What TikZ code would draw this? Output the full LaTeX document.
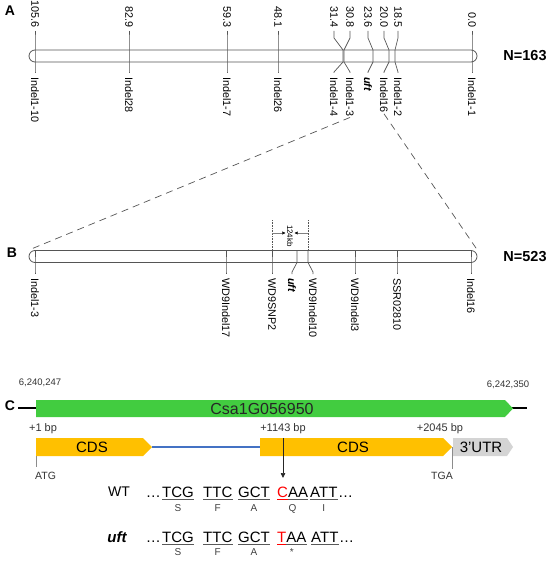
\documentclass[tikz,border=0pt]{standalone}
\usepackage{fontspec}
\setmainfont{Liberation Sans}
\usetikzlibrary{arrows.meta,calc}
\definecolor{genegreen}{RGB}{66,204,64}
\definecolor{cdsgold}{RGB}{255,192,0}
\definecolor{intronblue}{RGB}{68,114,196}
\definecolor{utrgray}{RGB}{212,212,212}
\definecolor{linegray}{RGB}{85,85,85}

\begin{document}
\begin{tikzpicture}[x=1pt,y=-1pt,
  chrom/.style={draw=linegray, line width=0.8pt, rounded corners=6pt, minimum width=448pt, minimum height=12pt, inner sep=0pt},
  tick/.style={draw=linegray, line width=0.7pt},
  toplab/.style={rotate=-90, anchor=east, inner sep=1pt, font=\fontsize{10.8}{12}\selectfont},
  botlab/.style={rotate=-90, anchor=west, inner sep=1pt, font=\fontsize{10.8}{12}\selectfont},
  panel/.style={font=\bfseries\fontsize{14}{16}\selectfont},
  popsize/.style={font=\bfseries\fontsize{14.5}{16}\selectfont},
  coordlab/.style={text=black!80, font=\fontsize{9.5}{11}\selectfont},
  bp/.style={text=black!80, font=\fontsize{11}{13}\selectfont},
  boxtext/.style={font=\fontsize{15}{17}\selectfont},
  codon/.style={anchor=base west, inner sep=0pt, font=\fontsize{15}{17}\selectfont},
  aa/.style={anchor=base, inner sep=0pt, text=black!75, font=\fontsize{10}{12}\selectfont},
  uline/.style={draw=black!65, line width=1pt}]
\useasboundingbox (0,0) rectangle (554,561);

% A: linkage map
\node[panel] (labA) at (10,11) {A};
\node[chrom] (barA) at (253,56) {};
\node[popsize] (nA) at (525,56) {N=163};
\foreach \m/\l/\t/\b [count=\i] in {35/35/105.6/Indel1-10, 129/129/82.9/Indel28, 227/227/59.3/Indel1-7, 278/278/48.1/Indel26, 343/334/31.4/Indel1-4, 344/350/30.8/Indel1-3, 373/368/23.6/{\textbf{\textit{uft}}}, 389/384/20.0/Indel16, 395/398/18.5/Indel1-2, 472/472/0.0/Indel1-1} {
  \node[toplab] (tA\i) at (\l,29) {\t};
  \node[botlab] (bA\i) at (\l,76) {\b};
  \draw[tick] (\l,31) -- (\l,38) -- (\m,50) -- (\m,62) -- (\l,72) -- (\l,73);
}

% B: fine map
\node[panel] (labB) at (12,253) {B};
\node[chrom] (barB) at (253,256.5) {};
\node[popsize] (nB) at (525,257) {N=523};
\foreach \m/\l/\b [count=\i] in {35/35/Indel1-3, 226/226/WD9Indel17, 272/272/WD9SNP2, 297/292/{\textbf{\textit{uft}}}, 308/313/WD9Indel10, 355/355/WD9Indel3, 397/397/SSR02810, 471/471/Indel16} {
  \node[botlab] (bB\i) at (\l,277) {\b};
  \draw[tick] (\m,250.5) -- (\m,262.5) -- (\l,272) -- (\l,274);
}
\coordinate (dl) at (272,220);
\coordinate (dr) at (308,220);
\draw[linegray, line width=0.6pt, densely dotted] (dl) -- (dl |- barB.north);
\draw[linegray, line width=0.6pt, densely dotted] (dr) -- (dr |- barB.north);
\node[rotate=-90, inner sep=0.5pt, font=\fontsize{8}{9}\selectfont] (dist) at (290,236) {124kb};
\coordinate (al) at (272,233);
\coordinate (ar) at (308,233);
\draw[black!50, line width=0.5pt, -{Triangle[length=3pt,width=3pt,black]}] (al) -- ([xshift=-1pt]dist.south |- al);
\draw[black!50, line width=0.5pt, -{Triangle[length=3pt,width=3pt,black]}] (ar) -- ([xshift=1pt]dist.north |- ar);

% zoom lines
\draw[linegray, line width=0.7pt, dash pattern=on 7pt off 5pt] (bA6.east) -- (barB.north west);
\draw[linegray, line width=0.7pt, dash pattern=on 7pt off 5pt] (bA8.east) -- (barB.north east);

% C: gene structure
\node[coordlab] (posL) at (40,383) {6,240,247};
\node[coordlab] (posR) at (508,385) {6,242,350};
\node[panel] (labC) at (10,406) {C};
\draw[black, line width=1.3pt] (18,408) -- (36,408);
\draw[black, line width=1.3pt] (512,408) -- (527,408);
\fill[genegreen] (36,400) -- (505,400) -- (513,408.5) -- (505,417) -- (36,417) -- cycle;
\node[boxtext, text=black!85, font=\fontsize{16}{18}\selectfont] (gene) at (262,409) {Csa1G056950};

\draw[intronblue, line width=1.5pt] (152,447) -- (260,447);
\fill[cdsgold] (36,438) -- (143,438) -- (152,447) -- (143,456) -- (36,456) -- cycle;
\fill[cdsgold] (260,438) -- (443,438) -- (452,447) -- (443,456) -- (260,456) -- cycle;
\fill[utrgray] (453,438) -- (507,438) -- (513,447) -- (507,456) -- (453,456) -- cycle;
\node[boxtext] (cds1) at (92,447) {CDS};
\node[boxtext] (cds2) at (353,447) {CDS};
\node[boxtext] (utr) at (481,447) {3’UTR};
\node[bp] (bp1) at (43,429) {+1 bp};
\node[bp] (bp2) at (283,429) {+1143 bp};
\node[bp] (bp3) at (440,429) {+2045 bp};

\draw[black!45, line width=0.8pt] (36,456) -- (36,467);
\draw[black!45, line width=0.8pt] (452,447) -- (452,469);
\node[bp, anchor=west, inner sep=0pt, font=\fontsize{10.5}{12}\selectfont] (atg) at (35,476) {ATG};
\node[bp, anchor=east, inner sep=0pt, font=\fontsize{10.5}{12}\selectfont] (tga) at (453,476) {TGA};

\coordinate (snptop) at (283,438);
\coordinate (snpbot) at (283,478);
\draw[black!85, line width=0.7pt, -{Triangle[length=5pt,width=4.5pt]}] (snptop) -- (snpbot);

% sequences
\node[font=\fontsize{14}{16}\selectfont] (wt) at (119,492) {WT};
\node[font=\bfseries\itshape\fontsize{15}{17}\selectfont] (mut) at (117,537) {uft};

\node[codon, anchor=base east] (wt0) at (161,497) {…};
\foreach \x/\c/\a [count=\i] in {162/TCG/S, 203/TTC/F, 238/GCT/A, 277/{\textcolor{red}{C}AA}/Q, 310/ATT/I} {
  \node[codon] (wt\i) at (\x,497) {\c};
  \draw[uline] ([yshift=-2pt]wt\i.base west) -- ([yshift=-2pt]wt\i.base east);
  \node[aa] (wtaa\i) at ([yshift=-14pt]wt\i.base) {\a};
}
\draw[uline, draw=red] ([yshift=-2pt]wt4.base west) -- ++(10.8,0);
\node[codon] (wt6) at (338,497) {…};

\node[codon, anchor=base east] (uf0) at (161,542) {…};
\foreach \x/\c/\a [count=\i] in {162/TCG/S, 203/TTC/F, 238/GCT/A, 277/{\textcolor{red}{T}AA}/*} {
  \node[codon] (uf\i) at (\x,542) {\c};
  \draw[uline] ([yshift=-2pt]uf\i.base west) -- ([yshift=-2pt]uf\i.base east);
  \node[aa] (ufaa\i) at ([yshift=-13pt]uf\i.base) {\a};
}
\draw[uline, draw=red] ([yshift=-2pt]uf4.base west) -- ++(9.2,0);
\node[codon] (uf5) at (311,542) {ATT};
\draw[uline] ([yshift=-2pt]uf5.base west) -- ([yshift=-2pt]uf5.base east);
\node[codon] (uf6) at (339,542) {…};
\end{tikzpicture}
\end{document}
